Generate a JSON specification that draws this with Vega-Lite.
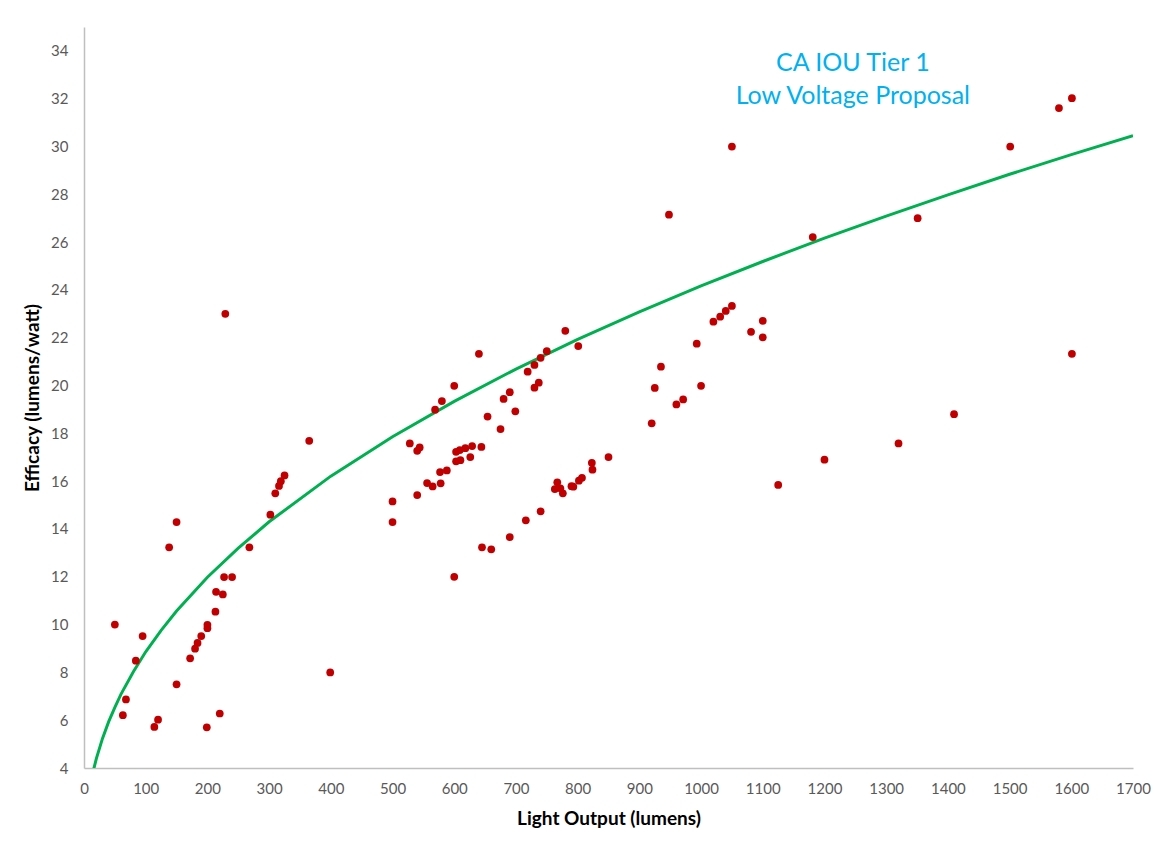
{
  "$schema": "https://vega.github.io/schema/vega-lite/v6.json",
  "width": 1049,
  "height": 741,
  "autosize": {"type": "none"},
  "padding": {"left": 84, "top": 27, "right": 33, "bottom": 82},
  "background": "white",
  "config": {
    "view": {"stroke": null},
    "font": "Lato",
    "axis": {
      "grid": false,
      "ticks": false,
      "domainColor": "#BFBFBF",
      "domainWidth": 1.5,
      "labelColor": "#595959",
      "labelFont": "Lato",
      "labelFontSize": 15,
      "labelFlush": false,
      "labelOverlap": false,
      "titleFont": "Lato",
      "titleFontSize": 19,
      "titleFontWeight": "bold",
      "titleColor": "#000000"
    }
  },
  "datasets": {
    "points": [
      {"lumens": 50, "efficacy": 10.0}, {"lumens": 95, "efficacy": 9.52}, {"lumens": 84, "efficacy": 8.49},
      {"lumens": 68, "efficacy": 6.87}, {"lumens": 63, "efficacy": 6.21}, {"lumens": 114, "efficacy": 5.72},
      {"lumens": 120, "efficacy": 6.02}, {"lumens": 150, "efficacy": 7.5}, {"lumens": 172, "efficacy": 8.59},
      {"lumens": 180, "efficacy": 8.99}, {"lumens": 184, "efficacy": 9.23}, {"lumens": 190, "efficacy": 9.52},
      {"lumens": 200, "efficacy": 9.99}, {"lumens": 200, "efficacy": 9.85}, {"lumens": 213, "efficacy": 10.54},
      {"lumens": 199, "efficacy": 5.7}, {"lumens": 220, "efficacy": 6.28}, {"lumens": 399, "efficacy": 8.0},
      {"lumens": 365, "efficacy": 17.69}, {"lumens": 150, "efficacy": 14.29}, {"lumens": 138, "efficacy": 13.23},
      {"lumens": 325, "efficacy": 16.24}, {"lumens": 319, "efficacy": 16.0}, {"lumens": 316, "efficacy": 15.8},
      {"lumens": 310, "efficacy": 15.49}, {"lumens": 302, "efficacy": 14.6}, {"lumens": 268, "efficacy": 13.23},
      {"lumens": 227, "efficacy": 11.99}, {"lumens": 240, "efficacy": 11.99}, {"lumens": 214, "efficacy": 11.37},
      {"lumens": 225, "efficacy": 11.26}, {"lumens": 229, "efficacy": 23.0}, {"lumens": 500, "efficacy": 15.15},
      {"lumens": 500, "efficacy": 14.29}, {"lumens": 528, "efficacy": 17.58}, {"lumens": 540, "efficacy": 17.27},
      {"lumens": 544, "efficacy": 17.41}, {"lumens": 540, "efficacy": 15.42}, {"lumens": 556, "efficacy": 15.92},
      {"lumens": 565, "efficacy": 15.78}, {"lumens": 578, "efficacy": 15.91}, {"lumens": 577, "efficacy": 16.38},
      {"lumens": 588, "efficacy": 16.45}, {"lumens": 569, "efficacy": 18.99}, {"lumens": 580, "efficacy": 19.35},
      {"lumens": 600, "efficacy": 19.99}, {"lumens": 640, "efficacy": 21.33}, {"lumens": 603, "efficacy": 17.23},
      {"lumens": 609, "efficacy": 17.3}, {"lumens": 618, "efficacy": 17.38}, {"lumens": 629, "efficacy": 17.47},
      {"lumens": 644, "efficacy": 17.43}, {"lumens": 603, "efficacy": 16.83}, {"lumens": 610, "efficacy": 16.88},
      {"lumens": 626, "efficacy": 17.01}, {"lumens": 654, "efficacy": 18.7}, {"lumens": 675, "efficacy": 18.18},
      {"lumens": 680, "efficacy": 19.44}, {"lumens": 690, "efficacy": 19.72}, {"lumens": 699, "efficacy": 18.92},
      {"lumens": 719, "efficacy": 20.58}, {"lumens": 730, "efficacy": 20.86}, {"lumens": 740, "efficacy": 21.16},
      {"lumens": 750, "efficacy": 21.44}, {"lumens": 780, "efficacy": 22.29}, {"lumens": 801, "efficacy": 21.65},
      {"lumens": 730, "efficacy": 19.91}, {"lumens": 737, "efficacy": 20.12}, {"lumens": 645, "efficacy": 13.23},
      {"lumens": 660, "efficacy": 13.15}, {"lumens": 600, "efficacy": 12.0}, {"lumens": 690, "efficacy": 13.66},
      {"lumens": 716, "efficacy": 14.36}, {"lumens": 740, "efficacy": 14.74}, {"lumens": 767, "efficacy": 15.95},
      {"lumens": 763, "efficacy": 15.67}, {"lumens": 772, "efficacy": 15.7}, {"lumens": 776, "efficacy": 15.49},
      {"lumens": 790, "efficacy": 15.79}, {"lumens": 793, "efficacy": 15.77}, {"lumens": 802, "efficacy": 16.02},
      {"lumens": 807, "efficacy": 16.14}, {"lumens": 823, "efficacy": 16.77}, {"lumens": 824, "efficacy": 16.48},
      {"lumens": 850, "efficacy": 17.01}, {"lumens": 920, "efficacy": 18.42}, {"lumens": 925, "efficacy": 19.9},
      {"lumens": 935, "efficacy": 20.79}, {"lumens": 960, "efficacy": 19.21}, {"lumens": 971, "efficacy": 19.42},
      {"lumens": 1000, "efficacy": 19.99}, {"lumens": 993, "efficacy": 21.75}, {"lumens": 1020, "efficacy": 22.67},
      {"lumens": 1031, "efficacy": 22.88}, {"lumens": 1040, "efficacy": 23.12}, {"lumens": 1050, "efficacy": 23.33},
      {"lumens": 1081, "efficacy": 22.25}, {"lumens": 1100, "efficacy": 22.71}, {"lumens": 1100, "efficacy": 22.02},
      {"lumens": 1125, "efficacy": 15.84}, {"lumens": 1200, "efficacy": 16.9}, {"lumens": 1320, "efficacy": 17.58},
      {"lumens": 1050, "efficacy": 30.0}, {"lumens": 1181, "efficacy": 26.21}, {"lumens": 1351, "efficacy": 27.0},
      {"lumens": 1501, "efficacy": 30.0}, {"lumens": 1601, "efficacy": 21.33}, {"lumens": 1410, "efficacy": 18.8},
      {"lumens": 948, "efficacy": 27.15}, {"lumens": 1580, "efficacy": 31.61}, {"lumens": 1601, "efficacy": 32.02}
    ],
    "curve": [
      {"lumens": 16, "efficacy": 3.98}, {"lumens": 20, "efficacy": 4.39}, {"lumens": 30, "efficacy": 5.24},
      {"lumens": 40, "efficacy": 5.94}, {"lumens": 50, "efficacy": 6.54}, {"lumens": 60, "efficacy": 7.09},
      {"lumens": 80, "efficacy": 8.03}, {"lumens": 100, "efficacy": 8.86}, {"lumens": 125, "efficacy": 9.76},
      {"lumens": 150, "efficacy": 10.57}, {"lumens": 200, "efficacy": 11.98}, {"lumens": 250, "efficacy": 13.2},
      {"lumens": 300, "efficacy": 14.3}, {"lumens": 400, "efficacy": 16.21}, {"lumens": 500, "efficacy": 17.86},
      {"lumens": 600, "efficacy": 19.34}, {"lumens": 700, "efficacy": 20.69}, {"lumens": 800, "efficacy": 21.93},
      {"lumens": 900, "efficacy": 23.08}, {"lumens": 1000, "efficacy": 24.17}, {"lumens": 1100, "efficacy": 25.19},
      {"lumens": 1200, "efficacy": 26.17}, {"lumens": 1300, "efficacy": 27.09}, {"lumens": 1400, "efficacy": 27.98},
      {"lumens": 1500, "efficacy": 28.84}, {"lumens": 1600, "efficacy": 29.66}, {"lumens": 1700, "efficacy": 30.45}
    ],
    "labels": [
      {"lumens": 1246, "efficacy": 33.49, "text": "CA IOU Tier 1"},
      {"lumens": 1246, "efficacy": 32.1, "text": "Low Voltage Proposal"}
    ]
  },
  "layer": [
    {
      "data": {"name": "curve"},
      "mark": {"type": "line", "color": "#00B050", "strokeWidth": 3, "clip": true},
      "encoding": {
        "x": {"field": "lumens", "type": "quantitative", "scale": {"domain": [0, 1700], "nice": false},
          "axis": {"title": "Light Output (lumens)", "format": "d", "values": [0,100,200,300,400,500,600,700,800,900,1000,1100,1200,1300,1400,1500,1600,1700], "labelPadding": 13, "titlePadding": 13}},
        "y": {"field": "efficacy", "type": "quantitative", "scale": {"domain": [4, 35], "nice": false, "zero": false},
          "axis": {"title": "Efficacy (lumens/watt)", "values": [4,6,8,10,12,14,16,18,20,22,24,26,28,30,32,34], "labelPadding": 16, "titlePadding": 8}}
      }
    },
    {
      "data": {"name": "points"},
      "mark": {"type": "circle", "color": "#C00000", "opacity": 1, "size": 60},
      "encoding": {
        "x": {"field": "lumens", "type": "quantitative"},
        "y": {"field": "efficacy", "type": "quantitative"}
      }
    },
    {
      "data": {"name": "labels"},
      "mark": {"type": "text", "color": "#00B0F0", "fontSize": 25, "font": "Lato", "align": "center", "baseline": "middle"},
      "encoding": {
        "x": {"field": "lumens", "type": "quantitative"},
        "y": {"field": "efficacy", "type": "quantitative"},
        "text": {"field": "text"}
      }
    }
  ]
}
